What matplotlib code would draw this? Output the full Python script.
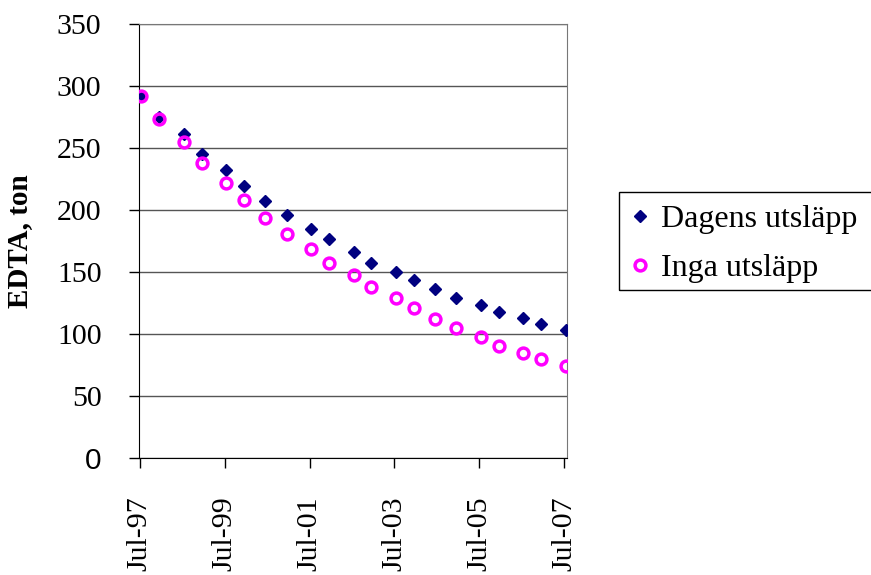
"""
EDTA i sjön: prognos med dagens utsläpp jämfört med inga utsläpp.
"""

import numpy as np
import matplotlib
matplotlib.use("Agg")
import matplotlib.pyplot as plt
import matplotlib.dates as mdates
from matplotlib.patches import Rectangle

# provtagningsdatum (juli och december varje år)
dates = np.array([
    "1997-07-15", "1997-12-15", "1998-07-15", "1998-12-15", "1999-07-15",
    "1999-12-15", "2000-06-15", "2000-12-15", "2001-07-15", "2001-12-15",
    "2002-07-15", "2002-12-15", "2003-07-15", "2003-12-15", "2004-06-15",
    "2004-12-15", "2005-07-15", "2005-12-15", "2006-07-15", "2006-12-15",
    "2007-07-15",
], dtype="datetime64[D]")

dagens = [292, 275, 261, 245, 232, 219, 207.5, 196, 184.7, 176.4, 166.4,
          157.5, 150.2, 143.5, 136, 128.8, 123.6, 117.5, 113.2, 107.8, 103]
inga = [292, 273.4, 254.8, 237.7, 222, 207.8, 193.5, 180.4, 168.8, 157.5,
        147.3, 137.7, 128.8, 120.7, 112.1, 104.6, 97.6, 90.3, 84.9, 79.6, 74.4]

tick_dates = np.array(["1997-07-01", "1999-07-01", "2001-07-01",
                       "2003-07-01", "2005-07-01", "2007-07-01"],
                      dtype="datetime64[D]")
y_ticks = [0, 50, 100, 150, 200, 250, 300, 350]

plt.rcParams["font.family"] = ["Liberation Serif", "DejaVu Serif"]


def main():
    fig = plt.figure(figsize=(8.71, 5.75), dpi=100)
    ax = fig.add_axes([139 / 871, 117 / 575, 428 / 871, 434 / 575])

    ax.plot(dates, dagens, linestyle="none", marker="D", markersize=6,
            color="#000080", label="Dagens utsläpp", zorder=3)
    ax.plot(dates, inga, linestyle="none", marker="o", markersize=7.8,
            markerfacecolor="none", markeredgecolor="#ff00ff",
            markeredgewidth=2.5, label="Inga utsläpp", zorder=4)

    ax.set_xlim(np.datetime64("1997-06-24"), np.datetime64("2007-07-27"))
    ax.set_ylim(0, 350)
    ax.set_xticks(tick_dates)
    ax.xaxis.set_major_formatter(mdates.DateFormatter("%b-%y"))
    ax.set_yticks(y_ticks)

    ax.yaxis.grid(True, color="#555555", linewidth=1)
    ax.set_axisbelow(True)
    for side in ("top", "right"):
        ax.spines[side].set_color("#777777")
    for side in ("left", "bottom"):
        ax.spines[side].set_color("black")

    ax.tick_params(axis="x", direction="out", length=7.5, width=1,
                   pad=20, labelsize=21.5, labelrotation=90)
    ax.tick_params(axis="y", direction="out", length=7, width=1,
                   pad=20, labelsize=21.5)
    # nollan på y-axeln står i sans-serif
    fig.canvas.draw()
    ax.get_yticklabels()[0].set_family(["Liberation Sans", "DejaVu Sans"])

    ax.set_ylabel("EDTA, ton", fontsize=21, fontweight="bold")
    ax.yaxis.set_label_coords(-0.247, 0.5)

    # legendruta som går ut över högra kanten
    fig.patches.append(Rectangle((619 / 871, 285 / 575), 0.4, 98 / 575,
                                 transform=fig.transFigure, fill=False,
                                 edgecolor="black", linewidth=1))
    fig.legend(loc="center left", bbox_to_anchor=(626 / 871, 1 - 244 / 575),
               frameon=False, fontsize=23, handlelength=0.9,
               handletextpad=0.21, labelspacing=0.61, borderpad=0,
               borderaxespad=0, markerscale=1.0)

    fig.savefig("out.png", dpi=100)


if __name__ == "__main__":
    main()
